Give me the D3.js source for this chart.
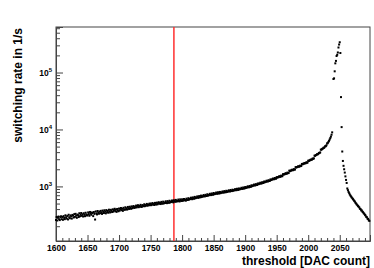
<!DOCTYPE html>
<html>
<head>
<meta charset="utf-8">
<script src="https://cdn.jsdelivr.net/npm/d3@7"></script>
<style>
  body { margin: 0; background: #fff; }
  text { font-family: "Liberation Sans", Arial, sans-serif; font-weight: bold; }
</style>
</head>
<body>
<svg id="chart"></svg>
<script>
// threshold scan, one reading per DAC count starting at 1600 (null = no point)
var firstDac = 1600 ;
var rates = [
  257, 290, 252, 281, 296, 265, 256, 287, 299, 266,
  290, 259, 301, 280, 266, 311, 287, 272, 303, 263,
  318, 288, 276, 310, 298, 272, 316, 306, 284, 326,
  292, 330, 306, 281, 320, 312, 290, 338, 299, 318,
  341, 304, 324, 296, 338, 318, 300, 345, 322, 309,
  312, 350, 327, 305, 356, 333, 318, 348, 339, 301,
  355, 329, 262, 364, 337, 322, 370, 344, 331, 362,
  338, 372, 349, 329, 377, 356, 341, 381, 360, 336,
  384, 352, 370, 345, 390, 364, 349, 388, 372, 355,
  396, 361, 383, 405, 368, 391, 357, 402, 379, 366,
  409, 376, 397, 418, 383, 404, 372, 421, 395, 388,
  430, 396, 414, 392, 436, 411, 402, 440, 418, 405,
  446, 413, 431, 452, 419, 438, 425, 461, 430, 444,
  468, 431, 452, 440, 475, 447, 436, 470, 458, 449,
  486, 450, 470, 462, 493, 458, 479, 466, 497, 470,
  501, 468, 487, 510, 478, 496, 472, 514, 489, 481,
  519, 485, 503, 528, 496, 512, 490, 535, 505, 498,
  540, 503, 521, 512, 548, 519, 508, 552, 526, 515,
  560, 522, 541, 533, 566, 538, 525, 571, 547, 539,
  580, 541, 558, 549, 588, 556, 544, 592, 563, 555,
  594, 557, 575, 601, 569, 586, 563, 610, 583, 578,
  621, 586, 604, 598, 634, 607, 596, 641, 615, 609,
  655, 618, 638, 629, 668, 641, 630, 676, 650, 643,
  690, 652, 673, 664, 705, 676, 667, 712, 686, 679,
  728, 689, 710, 700, 742, 714, 704, 752, 722, 716,
  766, 727, 748, 739, 781, 751, 742, 790, 760, 752,
  800, 762, 783, 775, 816, 788, 778, 828, 796, 788,
  838, 799, 820, 812, 855, 826, 815, 866, 834, 828,
  876, 838, 862, 851, 896, 866, 857, 909, 874, 869,
  921, 883, 907, 899, 946, 914, 905, 958, 926, 921,
  975, 939, 963, 956, 1004, 972, 965, 1018, 988, 984,
  1046, 1009, 1036, 1029, 1078, 1049, 1041, 1096, 1067, 1061,
  1126, 1091, 1119, 1110, 1162, 1135, 1124, 1185, 1152, 1149,
  1217, 1182, 1212, 1205, 1260, 1229, 1221, 1284, 1252, 1247,
  1325, 1293, 1323, 1318, 1375, 1344, 1338, 1405, 1371, 1370,
  1455, 1424, 1457, 1451, 1511, 1481, 1476, 1547, 1513, 1514,
  1640, 1606, 1647, 1640, 1705, 1676, 1671, 1748, 1712, 1718,
  1890, 1852, 1898, 1893, 1964, 1931, 1928, 2011, 1972, 1982,
  2180, 2140, 2188, 2186, 2260, 2225, 2230, 2316, 2275, 2290,
  2480, 2440, 2500, 2498, 2580, 2545, 2556, 2650, 2608, 2628,
  2830, 2795, 2870, 2880, 2960, 2935, 2970, 3085, 3050, 3110,
  3470, 3440, 3545, 3565, 3680, 3660, 3730, 3880, 3855, 3960,
  4430, 4400, 4550, 4590, 4760, 4760, 4880, 5100, 5090, 5290,
  5700, 5750, 6050, 6300, 6650, 7050, 7500, 8100, 8900, null,
  77000, 79000, 105000, 145000, 160000, 195000, 205000, 225000, 275000, 310000,
  340000, 220000, 37000, 11000, 4100, 2800, 2300, 2000, 1750, 1500,
  1300, 1150, 920, 860, 800, 760, 720, 690, 665, 640,
  620, 598, 580, 556, 540, 515, 500, 482, 468, 452,
  440, 428, 405, 402, 380, 378, 360, 352, 338, 330,
  316, 308, 292, 288, 272, 268, 254, 248
] ;
var markerDac = 1787 ;
var xTickLabels = [1600, 1650, 1700, 1750, 1800, 1850, 1900, 1950, 2000, 2050] ;
var yDecades = [3, 4, 5] ;

var width = 374,
    height = 268,
    margin = {top: 27, right: 4, bottom: 27, left: 56} ;

var svg = d3.select("#chart")
    .attr("width", width)
    .attr("height", height) ;

var x = d3.scaleLinear()
    .domain([1600, 2098])
    .range([margin.left, width - margin.right]) ;

var y = d3.scaleLog()
    .domain([110, 6.3e5])
    .range([height - margin.bottom, margin.top]) ;

var points = rates.map(function(r, i) { return {dac: firstDac + i, rate: r}; })
    .filter(function(d) { return d.rate != null; }) ;

// frame
svg.append("rect")
    .attr("x", x.range()[0])
    .attr("y", y.range()[1])
    .attr("width", x.range()[1] - x.range()[0])
    .attr("height", y.range()[0] - y.range()[1])
    .attr("fill", "none")
    .attr("stroke", "#444")
    .attr("stroke-width", 1) ;

// x axis ticks, pointing into the frame
var xMinor = d3.range(1600, 2098, 10).filter(function(v) { return v % 50 != 0; }) ;
svg.append("g")
    .attr("transform", "translate(0," + y.range()[0] + ")")
    .call(d3.axisBottom(x).tickValues(xMinor).tickSize(-3).tickFormat(""))
    .call(function(g) { g.select(".domain").remove(); }) ;
svg.append("g")
    .attr("transform", "translate(0," + y.range()[0] + ")")
    .call(d3.axisBottom(x).tickValues(xTickLabels).tickSize(-6).tickFormat(d3.format("d")))
    .call(function(g) { g.select(".domain").attr("stroke", "#444"); })
    .call(function(g) {
        g.selectAll("text")
            .attr("y", 1.5)
            .attr("dy", "0.95em")
            .attr("fill", "#000")
            .style("font-size", "8.5px") ;
    }) ;

// y axis ticks
var yMinor = [] ;
[2, 3, 4, 5].forEach(function(p) {
    d3.range(2, 10).forEach(function(m) {
        var v = m * Math.pow(10, p) ;
        if (v > y.domain()[0] && v < y.domain()[1]) yMinor.push(v) ;
    }) ;
}) ;
svg.append("g")
    .attr("transform", "translate(" + x.range()[0] + ",0)")
    .call(d3.axisLeft(y).tickValues(yMinor).tickSize(-4).tickFormat(""))
    .call(function(g) { g.select(".domain").remove(); }) ;
svg.append("g")
    .attr("transform", "translate(" + x.range()[0] + ",0)")
    .call(d3.axisLeft(y).tickValues(yDecades.map(function(p) { return Math.pow(10, p); })).tickSize(-7).tickFormat(""))
    .call(function(g) { g.select(".domain").attr("stroke", "#444"); }) ;

svg.selectAll("g.tick line").attr("stroke", "#444") ;

var yLabels = svg.append("g").selectAll("text")
    .data(yDecades)
    .enter().append("text")
    .attr("x", x.range()[0] - 4)
    .attr("y", function(d) { return y(Math.pow(10, d)) + 3.5; })
    .attr("text-anchor", "end")
    .style("font-size", "8.5px") ;
yLabels.append("tspan").text("10") ;
yLabels.append("tspan")
    .attr("dy", -4)
    .style("font-size", "6px")
    .text(function(d) { return d; }) ;

// red marker line
svg.append("line")
    .attr("x1", x(markerDac))
    .attr("x2", x(markerDac))
    .attr("y1", y.range()[0])
    .attr("y2", y.range()[1])
    .attr("stroke", "#ff3030")
    .attr("stroke-width", 1.5) ;

// data points
svg.append("g").selectAll("rect")
    .data(points)
    .enter().append("rect")
    .attr("x", function(d) { return x(d.dac) - 1; })
    .attr("y", function(d) { return y(d.rate) - 1; })
    .attr("width", 2)
    .attr("height", 2)
    .attr("fill", "#000") ;

// axis titles
svg.append("text")
    .attr("transform", "translate(22," + (margin.top + 1) + ") rotate(-90)")
    .attr("text-anchor", "end")
    .style("font-size", "12px")
    .text("switching rate in 1/s") ;

svg.append("text")
    .attr("x", width - 4)
    .attr("y", height - 3)
    .attr("text-anchor", "end")
    .style("font-size", "12px")
    .text("threshold [DAC count]") ;
</script>
</body>
</html>
